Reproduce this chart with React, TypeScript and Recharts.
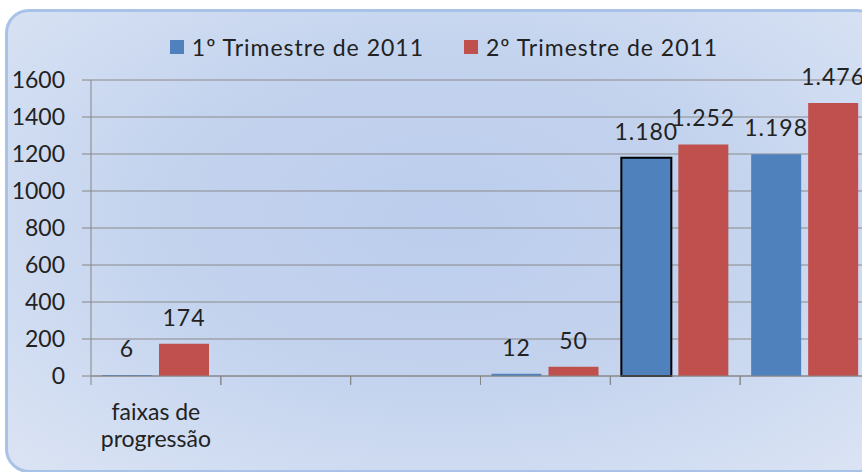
import React from 'react';
import { BarChart, Bar, XAxis, YAxis, CartesianGrid, LabelList, Cell } from 'recharts';

// Values; empty categories stay null
const categories = ['faixas de progressão', '', '', '', '', ''];
const trim1Name = '1º Trimestre de 2011';
const trim2Name = '2º Trimestre de 2011';
const trim1Values = [6, null, null, 12, 1180, 1198];
const trim2Values = [174, null, null, 50, 1252, 1476];
const yTicks = [0, 200, 400, 600, 800, 1000, 1200, 1400, 1600];

const BLUE = '#4f81bd';
const RED = '#c0504d';
const FONT = 'Lato, "Noto Sans", sans-serif';

const data = categories.map((name, i) => ({
  name,
  t1: trim1Values[i],
  t2: trim2Values[i],
}));

// pt-BR style thousands separator (1.180)
const fmt = (v: any) => {
  if (v === null || v === undefined) return '';
  return String(v).replace(/\B(?=(\d{3})+(?!\d))/g, '.');
};

const CategoryTick = (props: any) => {
  const { x, y, payload } = props;
  const half = payload && payload.offset ? payload.offset : 65;
  const left = x - half;
  const words = String(payload.value || '').split(' ');
  // wrap "faixas de" / "progressão"
  const lines = words.length > 2 ? [words.slice(0, 2).join(' '), words.slice(2).join(' ')] : [words.join(' ')];
  return (
    <g>
      <line x1={left} y1={y} x2={left} y2={y + 9} stroke="#868686" />
      <line x1={x + half} y1={y} x2={x + half} y2={y + 9} stroke="#868686" />
      {payload.value ? (
        <text x={x} y={y + 44} textAnchor="middle" fontSize={23} fontFamily={FONT} fill="#222">
          {lines.map((l, i) => (
            <tspan key={i} x={x} dy={i === 0 ? 0 : 27}>
              {l}
            </tspan>
          ))}
        </text>
      ) : null}
    </g>
  );
};

const App = () => {
  return (
    <div
      style={{
        position: 'fixed',
        left: 0,
        top: 0,
        width: 862,
        height: 472,
        overflow: 'hidden',
        background: '#ffffff',
      }}
    >
      <div
        style={{
          position: 'absolute',
          left: 5,
          top: 9,
          width: 870,
          height: 458,
          borderRadius: 24,
          border: '3px solid #a9c2e8',
          background: 'radial-gradient(ellipse at 50% 45%, #bccded 0%, #c3d3ee 45%, #dbe4f4 100%)',
        }}
      />
      <div
        style={{
          position: 'absolute',
          left: 0,
          top: 33,
          width: 888,
          display: 'flex',
          justifyContent: 'center',
          fontFamily: FONT,
          fontSize: 23,
          letterSpacing: 1,
          color: '#222',
        }}
      >
        {[
          { name: trim1Name, color: BLUE },
          { name: trim2Name, color: RED },
        ].map((item, i) => (
          <div key={i} style={{ display: 'flex', alignItems: 'center', marginRight: i === 0 ? 40 : 0 }}>
            <span style={{ display: 'inline-block', width: 14, height: 14, background: item.color, marginRight: 8 }} />
            <span>{item.name}</span>
          </div>
        ))}
      </div>
      <div style={{ position: 'absolute', left: 0, top: 0 }}>
        <BarChart
          width={880}
          height={472}
          data={data}
          margin={{ top: 80, right: 10, bottom: 36, left: 0 }}
          barCategoryGap={11}
          barGap={7}
        >
          <CartesianGrid vertical={false} stroke="#8a8a8a" />
          <XAxis
            dataKey="name"
            interval={0}
            height={60}
            tickLine={false}
            tickSize={0}
            tickMargin={0}
            axisLine={{ stroke: '#868686' }}
            tick={<CategoryTick />}
          />
          <YAxis
            width={91}
            domain={[0, 1600]}
            ticks={yTicks}
            interval={0}
            tickSize={9}
            tickMargin={17}
            axisLine={{ stroke: '#868686' }}
            tickLine={{ stroke: '#868686' }}
            tick={{ fontSize: 23, fontFamily: FONT, fill: '#222' }}
          />
          <Bar dataKey="t1" name={trim1Name} fill={BLUE} isAnimationActive={false}>
            {data.map((d, i) => (
              <Cell key={i} fill={BLUE} stroke={i === 4 ? '#000' : 'none'} strokeWidth={i === 4 ? 2 : 0} />
            ))}
            <LabelList dataKey="t1" position="top" offset={18} formatter={fmt} fontSize={23} fontFamily={FONT} fill="#222" letterSpacing={1} />
          </Bar>
          <Bar dataKey="t2" name={trim2Name} fill={RED} isAnimationActive={false}>
            <LabelList dataKey="t2" position="top" offset={18} formatter={fmt} fontSize={23} fontFamily={FONT} fill="#222" letterSpacing={1} />
          </Bar>
        </BarChart>
      </div>
    </div>
  );
};

export default App;
